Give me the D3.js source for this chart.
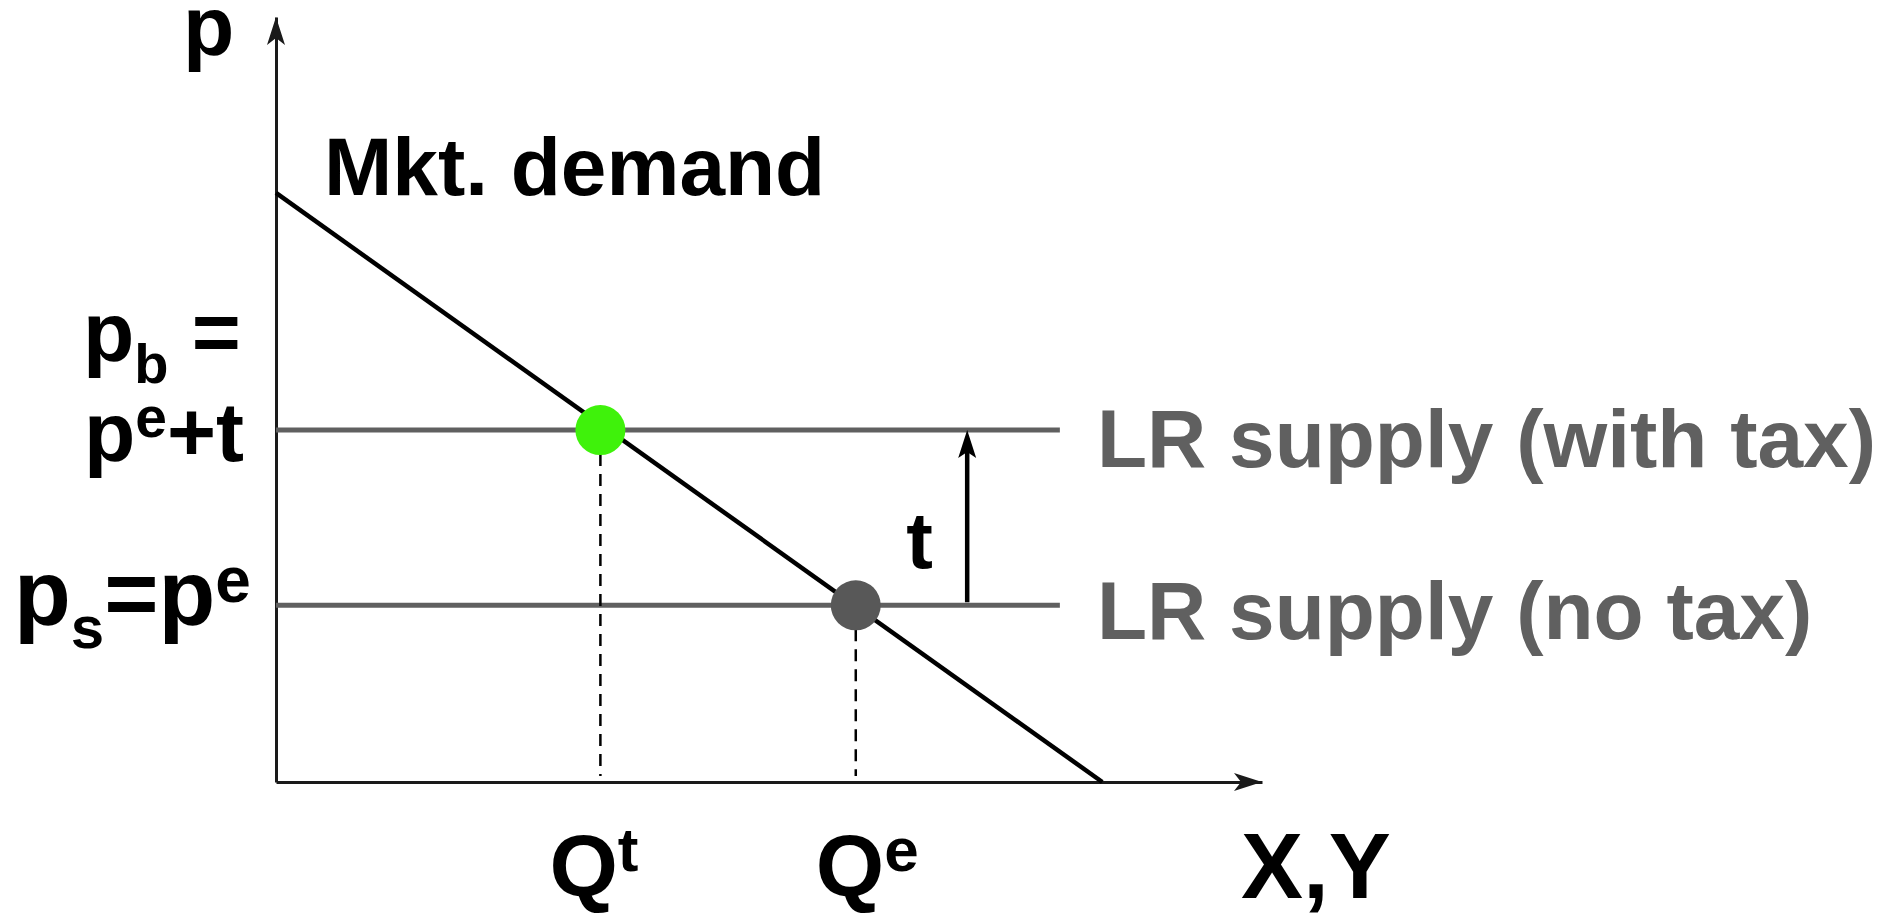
<!DOCTYPE html>
<html>
<head>
<meta charset="utf-8">
<script src="https://cdn.jsdelivr.net/npm/d3@7/dist/d3.min.js"></script>
<style>
  html, body { margin: 0; padding: 0; background: #ffffff; }
  svg { display: block; }
  text { font-family: "Liberation Sans", Arial, "DejaVu Sans", sans-serif; font-weight: bold; }
</style>
</head>
<body>
<svg id="chart" width="1894" height="914"></svg>
<script>
// Market demand (straight line) in quantity / price units
const demandPoints = [
  { q: 0, p: 77.0 },
  { q: 83.8, p: 0 }
];

// Long-run supply levels (perfectly elastic)
const priceNoTax = 23.1;     // p_s = p^e
const priceWithTax = 46.0;   // p_b = p^e + t
const supplyEndQ = 79.5;

// Equilibrium quantities
const qTax = 32.9;           // Q^t
const qEq = 58.8;            // Q^e

// Position of the tax-wedge arrow
const arrowQ = 70.1;

// Axis extents
const qDomain = [0, 100];
const pDomain = [0, 100];

const svg = d3.select("#chart");

const x = d3.scaleLinear().domain(qDomain).range([276, 1262]);
const y = d3.scaleLinear().domain(pDomain).range([782, 17]);

const axisColor = "#1a1a1a";
const supplyColor = "#606060";

// Stealth-style arrowhead pointing in direction `angle` (radians) with tip at (tx, ty)
function arrowHead(tx, ty, angle, len, half, notch) {
  const c = Math.cos(angle), s = Math.sin(angle);
  const pt = (a, b) => [tx + a * c - b * s, ty + a * s + b * c];
  const pts = [pt(0, 0), pt(-len, -half), pt(-len + notch, 0), pt(-len, half)];
  return "M" + pts.map(p => p.join(",")).join("L") + "Z";
}

// ---- Axes (no ticks, just the domain lines) ----
const xAxis = d3.axisBottom(x).tickValues([]).tickSizeOuter(0);
const yAxis = d3.axisLeft(y).tickValues([]).tickSizeOuter(0);

svg.append("g")
  .attr("transform", `translate(0,${y(0)})`)
  .call(xAxis)
  .call(g => g.select(".domain").attr("stroke", axisColor).attr("stroke-width", 3));

svg.append("g")
  .attr("transform", `translate(${x(0)},0)`)
  .call(yAxis)
  .call(g => g.select(".domain").attr("stroke", axisColor).attr("stroke-width", 3));

// Axis arrowheads
svg.append("path")
  .attr("d", arrowHead(x(qDomain[1]), y(0), 0, 28, 9, 7))
  .attr("fill", axisColor);
svg.append("path")
  .attr("d", arrowHead(x(0), y(pDomain[1]), -Math.PI / 2, 28, 9, 7))
  .attr("fill", axisColor);

// ---- Supply lines ----
const supplyLevels = [priceWithTax, priceNoTax];
svg.selectAll("line.supply")
  .data(supplyLevels)
  .join("line")
  .attr("class", "supply")
  .attr("x1", x(0)).attr("x2", x(supplyEndQ))
  .attr("y1", d => y(d)).attr("y2", d => y(d))
  .attr("stroke", supplyColor)
  .attr("stroke-width", 5);

// ---- Demand line ----
const line = d3.line().x(d => x(d.q)).y(d => y(d.p));
svg.append("path")
  .datum(demandPoints)
  .attr("d", line)
  .attr("fill", "none")
  .attr("stroke", "#000000")
  .attr("stroke-width", 4.5);

// ---- Dashed drop lines to the quantity axis ----
const equilibria = [
  { q: qTax, p: priceWithTax, color: "#3ff20b" },
  { q: qEq, p: priceNoTax, color: "#585858" }
];
svg.selectAll("line.drop")
  .data(equilibria)
  .join("line")
  .attr("class", "drop")
  .attr("x1", d => x(d.q)).attr("x2", d => x(d.q))
  .attr("y1", d => y(d.p) + 24).attr("y2", y(0) - 6)
  .attr("stroke", "#000000")
  .attr("stroke-width", 2.5)
  .attr("stroke-dasharray", "12,8");

// ---- Equilibrium points ----
svg.selectAll("circle.eq")
  .data(equilibria)
  .join("circle")
  .attr("class", "eq")
  .attr("cx", d => x(d.q))
  .attr("cy", d => y(d.p))
  .attr("r", 25)
  .attr("fill", d => d.color);

// ---- Tax wedge arrow ----
svg.append("line")
  .attr("x1", x(arrowQ)).attr("x2", x(arrowQ))
  .attr("y1", y(priceNoTax) - 3).attr("y2", y(priceWithTax) + 20)
  .attr("stroke", "#000000")
  .attr("stroke-width", 4.5);
svg.append("path")
  .attr("d", arrowHead(x(arrowQ), y(priceWithTax), -Math.PI / 2, 28, 9, 6))
  .attr("fill", "#000000");

// ---- Labels ----
function richText(xPos, yPos, parts, color) {
  const t = svg.append("text")
    .attr("x", xPos).attr("y", yPos)
    .attr("fill", color || "#000000");
  parts.forEach(p => {
    t.append("tspan")
      .attr("font-size", p.size)
      .attr("dy", p.dy || 0)
      .text(p.text);
  });
  return t;
}

// Axis titles
richText(x(0) - 93, 55, [{ text: "p", size: 84 }]);
richText(1241, 898, [{ text: "X,Y", size: 93 }]);

// Demand label
richText(x(0) + 48, 195, [{ text: "Mkt. demand", size: 82 }]);

// Supply labels
richText(1097, y(priceWithTax) + 37, [{ text: "LR supply (with tax)", size: 82 }], supplyColor);
richText(1097, y(priceNoTax) + 34, [{ text: "LR supply (no tax)", size: 82 }], supplyColor);

// Tax label
richText(x(arrowQ) - 61, 568, [{ text: "t", size: 80 }]);

// Price labels on the vertical axis
richText(83, 361, [
  { text: "p", size: 84 },
  { text: "b", size: 56, dy: 22 },
  { text: " =", size: 84, dy: -22 }
]);
richText(84, 461, [
  { text: "p", size: 84 },
  { text: "e", size: 57, dy: -24 },
  { text: "+t", size: 84, dy: 24 }
]);
richText(14, 625, [
  { text: "p", size: 93 },
  { text: "s", size: 60, dy: 23 },
  { text: "=p", size: 93, dy: -23 },
  { text: "e", size: 64, dy: -23 }
]);

// Quantity labels on the horizontal axis
richText(x(qTax) - 51, 896, [
  { text: "Q", size: 88 },
  { text: "t", size: 62, dy: -25 }
]);
richText(x(qEq) - 40, 896, [
  { text: "Q", size: 88 },
  { text: "e", size: 62, dy: -25 }
]);
</script>
</body>
</html>
